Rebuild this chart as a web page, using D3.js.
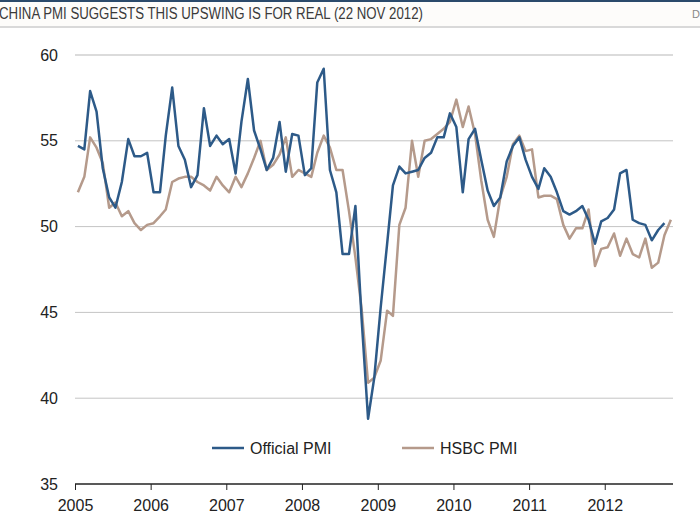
<!DOCTYPE html>
<html>
<head>
<meta charset="utf-8">
<script src="https://cdn.jsdelivr.net/npm/d3@7"></script>
<style>
  html, body { margin: 0; padding: 0; background: #fff; }
  svg { display: block; font-family: "Liberation Sans", Arial, Helvetica, sans-serif; }
</style>
</head>
<body>
<svg id="chart" width="700" height="525"></svg>
<script>
// ---- data ----
const title = "CHINA PMI SUGGESTS THIS UPSWING IS FOR REAL (22 NOV 2012)";
const seriesNames = ["Official PMI", "HSBC PMI"];
const officialStart = "2005-01";
const hsbcStart = "2005-01";
const yTicks = [35, 40, 45, 50, 55, 60];
const xTickYears = [2005, 2006, 2007, 2008, 2009, 2010, 2011, 2012];

const officialPMI = [
  54.7, 54.5, 57.9, 56.7, 53.4, 51.7, 51.1, 52.6, 55.1, 54.1, 54.1, 54.3,
  52.0, 52.0, 55.3, 58.1, 54.7, 53.9, 52.3, 53.0, 56.9, 54.7, 55.3, 54.8,
  55.1, 53.1, 56.1, 58.6, 55.6, 54.5, 53.3, 54.0, 56.1, 53.2, 55.4, 55.3,
  53.0, 53.4, 58.4, 59.2, 53.3, 52.0, 48.4, 48.4, 51.2, 44.6, 38.8, 41.2,
  45.3, 49.0, 52.4, 53.5, 53.1, 53.2, 53.3, 54.0, 54.3, 55.2, 55.2, 56.6,
  55.8, 52.0, 55.1, 55.7, 53.9, 52.1, 51.2, 51.7, 53.8, 54.7, 55.2, 53.9,
  52.9, 52.2, 53.4, 52.9, 52.0, 50.9, 50.7, 50.9, 51.2, 50.4, 49.0, 50.3,
  50.5, 51.0, 53.1, 53.3, 50.4, 50.2, 50.1, 49.2, 49.8, 50.2
];
const hsbcPMI = [
  52.0, 52.9, 55.2, 54.6, 53.7, 51.1, 51.4, 50.6, 50.9, 50.2, 49.8, 50.1,
  50.2, 50.6, 51.0, 52.6, 52.8, 52.9, 52.9, 52.6, 52.4, 52.1, 52.9, 52.4,
  52.0, 52.9, 52.3, 53.1, 54.0, 55.0, 53.3, 53.6, 54.2, 55.2, 52.9, 53.3,
  53.1, 52.9, 54.3, 55.3, 54.6, 53.3, 53.3, 50.9, 48.2, 45.2, 40.9, 41.2,
  42.2, 45.1, 44.8, 50.1, 51.1, 55.0, 52.9, 55.0, 55.1, 55.4, 55.7, 56.1,
  57.4, 55.8, 57.0, 55.4, 52.7, 50.4, 49.4, 51.7, 52.9, 54.8, 55.3, 54.4,
  54.5, 51.7, 51.8, 51.8, 51.6, 50.1, 49.3, 49.9, 49.9, 51.0, 47.7, 48.7,
  48.8, 49.6, 48.3, 49.3, 48.4, 48.2, 49.3, 47.6, 47.9, 49.5, 50.4
];

// ---- helpers ----
const parseMonth = d3.timeParse("%Y-%m");
function monthSeries(start, values) {
  const s = parseMonth(start);
  return values.map((v, i) => {
    const d = d3.timeMonth.offset(s, i);
    return { date: new Date(d.getFullYear(), d.getMonth(), 15), value: v };
  });
}
const officialData = monthSeries(officialStart, officialPMI);
const hsbcData = monthSeries(hsbcStart, hsbcPMI);

const svg = d3.select("#chart");
const W = 700, H = 525;

// ---- header ----
svg.append("rect").attr("x", 0).attr("y", 0).attr("width", W).attr("height", 2).attr("fill", "#2b4a6b");
svg.append("rect").attr("x", 0).attr("y", 2).attr("width", W).attr("height", 24).attr("fill", "#fdfcfa");
svg.append("line").attr("x1", 0).attr("x2", W).attr("y1", 27).attr("y2", 27)
  .attr("stroke", "#d9d9d9").attr("stroke-width", 2);
svg.append("text").attr("x", -1).attr("y", 19)
  .attr("font-size", 16).attr("fill", "#3a3a3a")
  .attr("textLength", 424).attr("lengthAdjust", "spacingAndGlyphs")
  .text(title);
svg.append("text").attr("x", 692).attr("y", 18).attr("font-size", 11).attr("fill", "#888").text("D");

// ---- scales ----
const x = d3.scaleTime()
  .domain([new Date(2005, 0, 1), new Date(2013, 0, 1)])
  .range([75, 680.6]);
const y = d3.scaleLinear().domain([35, 60]).range([484, 55]);
const plotRight = 673;

// gridlines
svg.append("g").selectAll("line")
  .data(yTicks.filter(t => t !== 35))
  .join("line")
  .attr("x1", 75).attr("x2", plotRight)
  .attr("y1", d => y(d)).attr("y2", d => y(d))
  .attr("stroke", d => d === 60 ? "#cfcfcf" : "#c4c4c4")
  .attr("stroke-width", d => d === 60 ? 1.5 : 1);

// y labels
svg.append("g").selectAll("text")
  .data(yTicks)
  .join("text")
  .attr("x", 58).attr("y", d => y(d))
  .attr("dy", "0.35em")
  .attr("text-anchor", "end")
  .attr("font-size", 16).attr("fill", "#222")
  .text(d => d);

// x axis
const xAxis = d3.axisBottom(x)
  .tickValues(xTickYears.map(yr => new Date(yr, 0, 1)))
  .tickFormat(d3.timeFormat("%Y"))
  .tickSize(6).tickSizeOuter(0).tickPadding(10);
const gx = svg.append("g").attr("transform", `translate(0,${y(35)})`).call(xAxis);
gx.select(".domain").remove();
gx.selectAll(".tick line").attr("stroke", "#222").attr("stroke-width", 1);
gx.selectAll(".tick text").attr("font-size", 16).attr("fill", "#222")
  .attr("font-family", "\"Liberation Sans\", Arial, sans-serif");
svg.append("line").attr("x1", 75).attr("x2", plotRight)
  .attr("y1", y(35)).attr("y2", y(35)).attr("stroke", "#222").attr("stroke-width", 1.5);

// ---- lines ----
const colors = { official: "#2d5a88", hsbc: "#b59a8b" };
const line = d3.line().x(d => x(d.date)).y(d => y(d.value));

svg.append("path").datum(hsbcData)
  .attr("fill", "none").attr("stroke", colors.hsbc)
  .attr("stroke-width", 2.5).attr("stroke-linejoin", "round")
  .attr("d", line);
svg.append("path").datum(officialData)
  .attr("fill", "none").attr("stroke", colors.official)
  .attr("stroke-width", 2.5).attr("stroke-linejoin", "round")
  .attr("d", line);

// ---- legend ----
const legendItems = [
  { name: seriesNames[0], color: colors.official, x: 212 },
  { name: seriesNames[1], color: colors.hsbc, x: 402 }
];
const lg = svg.append("g");
legendItems.forEach(it => {
  lg.append("line").attr("x1", it.x).attr("x2", it.x + 32)
    .attr("y1", 448).attr("y2", 448)
    .attr("stroke", it.color).attr("stroke-width", 2.5);
  lg.append("text").attr("x", it.x + 38).attr("y", 448).attr("dy", "0.35em")
    .attr("font-size", 16).attr("fill", "#222").text(it.name);
});
</script>
</body>
</html>
